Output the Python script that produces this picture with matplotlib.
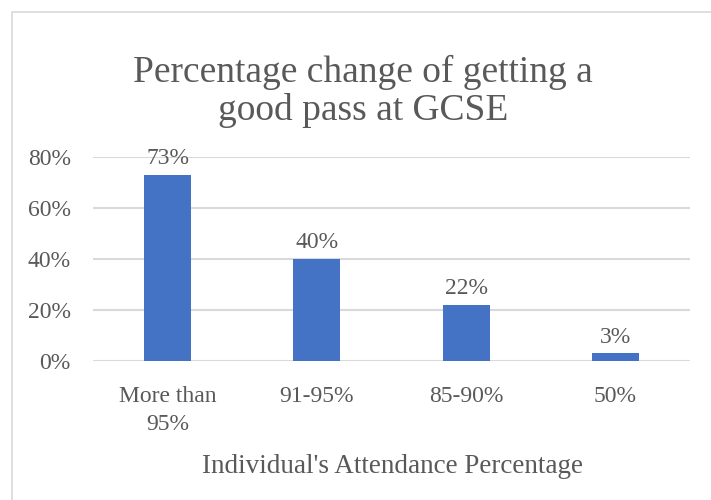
import matplotlib.pyplot as plt
from matplotlib.patches import Rectangle
from matplotlib.ticker import PercentFormatter

categories = ['More than\n95%', '91-95%', '85-90%', '50%']
values = [0.73, 0.40, 0.22, 0.03]
labels = ['73%', '40%', '22%', '3%']

plt.rcParams['font.family'] = ['Liberation Serif', 'DejaVu Serif']
text_color = '#595959'

fig = plt.figure(figsize=(7.11, 5), dpi=100)

# light chart border (Excel style), runs off right and bottom edges
fig.patches.append(Rectangle((12 / 711, -0.1), 1.0, (500 - 12) / 500 + 0.1,
                             transform=fig.transFigure, fill=False,
                             edgecolor='#D9D9D9', linewidth=1.2))

ax = fig.add_axes([93 / 711, 139 / 500, 597 / 711, 204 / 500])
x = range(len(categories))
bars = ax.bar(x, values, width=0.315, color='#4472C4', zorder=3)

for b, lab in zip(bars, labels):
    ax.annotate(lab, (b.get_x() + b.get_width() / 2, b.get_height()),
                xytext=(0, 4), textcoords='offset points',
                ha='center', va='bottom', fontsize=17, color=text_color)

ax.set_ylim(0, 0.8)
ax.set_xlim(-0.5, 3.5)
ax.set_yticks([0, 0.2, 0.4, 0.6, 0.8])
ax.yaxis.set_major_formatter(PercentFormatter(1.0, decimals=0))
ax.set_xticks(list(x))
ax.set_xticklabels(categories, linespacing=1.45)
ax.tick_params(axis='both', length=0, labelsize=17, labelcolor=text_color)
ax.tick_params(axis='y', pad=16)
ax.tick_params(axis='x', pad=18)
ax.grid(axis='y', color='#D9D9D9', linewidth=1.5, zorder=0)
for s in ax.spines.values():
    s.set_visible(False)

ax.set_xlabel("Individual's Attendance Percentage", fontsize=19.5,
              color=text_color, va='baseline')
ax.xaxis.set_label_coords(0.5 + 1.5 / 597, -112 / 204)

fig.text(363 / 711, 1 - 120 / 500, 'Percentage change of getting a\ngood pass at GCSE',
         ha='center', va='baseline', fontsize=27, color=text_color, linespacing=1.12)

fig.savefig('out.png', dpi=100)
